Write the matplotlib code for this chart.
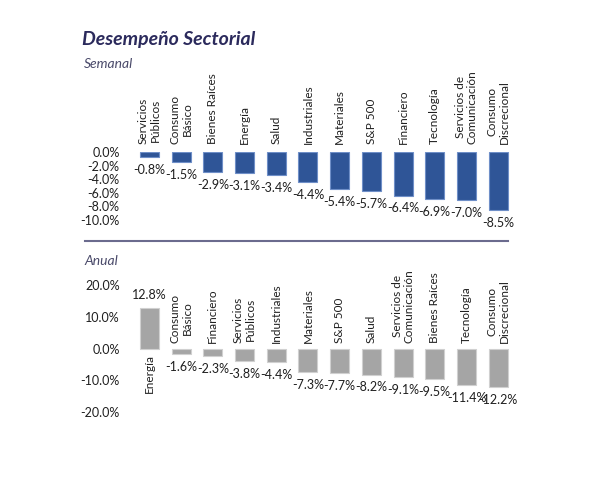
import matplotlib.pyplot as plt
from matplotlib.lines import Line2D

plt.rcParams['font.family'] = ['Lato', 'DejaVu Sans']

# Semanal
sem_cats = ['Servicios\nPúblicos', 'Consumo\nBásico', 'Bienes Raíces', 'Energía', 'Salud',
            'Industriales', 'Materiales', 'S&P 500', 'Financiero', 'Tecnología',
            'Servicios de\nComunicación', 'Consumo\nDiscrecional']
sem_vals = [-0.8, -1.5, -2.9, -3.1, -3.4, -4.4, -5.4, -5.7, -6.4, -6.9, -7.0, -8.5]
sem_ticks = [0, -2, -4, -6, -8, -10]

# Anual
anu_cats = ['Energía', 'Consumo\nBásico', 'Financiero', 'Servicios\nPúblicos', 'Industriales',
            'Materiales', 'S&P 500', 'Salud', 'Servicios de\nComunicación', 'Bienes Raíces',
            'Tecnología', 'Consumo\nDiscrecional']
anu_vals = [12.8, -1.6, -2.3, -3.8, -4.4, -7.3, -7.7, -8.2, -9.1, -9.5, -11.4, -12.2]
anu_ticks = [20, 10, 0, -10, -20]

W, H = 602, 484
fig = plt.figure(figsize=(W / 100, H / 100), dpi=100)

def px_axes(left, right, top, bottom):
    return fig.add_axes([left / W, 1 - bottom / H, (right - left) / W, (bottom - top) / H])

txt = '#1f1f1f'

def draw(ax, cats, vals, ticks, ylim, color, edge, lab_off, val_off):
    x = range(len(vals))
    ax.bar(x, vals, width=0.6, color=color, edgecolor=edge, linewidth=0.8)
    ax.set_xlim(-0.5, len(vals) - 0.5)
    ax.set_ylim(*ylim)
    ax.set_yticks(ticks)
    ax.set_yticklabels([f'{t:.1f}%' for t in ticks], fontsize=9, color=txt)
    ax.tick_params(axis='y', length=0, pad=10)
    ax.set_xticks([])
    for s in ax.spines.values():
        s.set_visible(False)
    ax.patch.set_alpha(0)
    for i, (c, v) in enumerate(zip(cats, vals)):
        up = v < 0
        ax.annotate(c, (i, 0), xytext=(0, lab_off if up else -lab_off), textcoords='offset points',
                    rotation=90, ha='center', va='bottom' if up else 'top',
                    multialignment='center', fontsize=8.5, color=txt, annotation_clip=False,
                    linespacing=1.1)
        ax.annotate(f'{v:.1f}%', (i, v), xytext=(0, -val_off if up else val_off),
                    textcoords='offset points', ha='center', va='top' if up else 'bottom',
                    fontsize=9, color=txt, annotation_clip=False)

ax1 = px_axes(133.6, 514, 152, 220)
draw(ax1, sem_cats, sem_vals, sem_ticks, (-10, 0), '#2f5597', '#6f8fc8', 6, 5)

ax2 = px_axes(133.6, 514, 285, 412)
draw(ax2, anu_cats, anu_vals, anu_ticks, (-20, 20), '#a5a5a5', '#d0d0d0', 4, 5)

fig.text(82 / W, 1 - 40 / H, 'Desempeño Sectorial', fontsize=14, fontweight='bold',
         fontstyle='italic', color='#2b2a5c', va='center')
fig.text(84 / W, 1 - 64 / H, 'Semanal', fontsize=10, fontstyle='italic', color='#4a4a6a', va='center')
fig.text(84 / W, 1 - 261 / H, 'Anual', fontsize=10, fontstyle='italic', color='#4a4a6a', va='center')
fig.add_artist(Line2D([85 / W, 508 / W], [1 - 241 / H] * 2, color='#6b6b8e', lw=1.5))

fig.savefig('out.png', dpi=100)
